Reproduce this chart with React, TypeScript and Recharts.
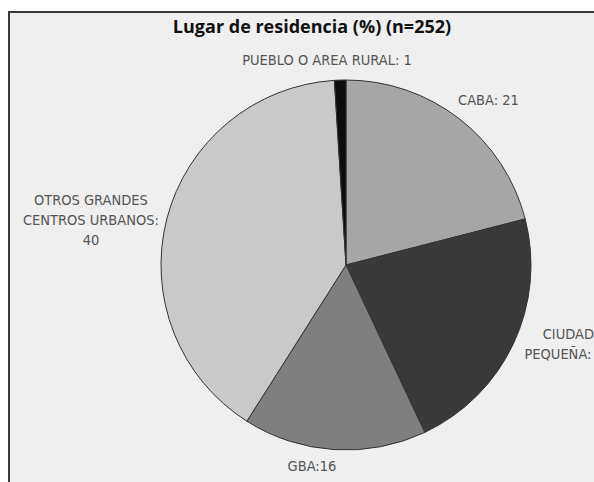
import React from "react";
import { PieChart, Pie, Cell } from "recharts";

const categories = [
  "CABA",
  "CIUDAD PEQUEÑA",
  "GBA",
  "OTROS GRANDES CENTROS URBANOS",
  "PUEBLO O AREA RURAL",
];
const values = [21, 22, 16, 40, 1];
const labelLines = [
  ["CABA: 21"],
  ["CIUDAD", "PEQUEÑA: 22"],
  ["GBA:16"],
  ["OTROS GRANDES", "CENTROS URBANOS:", "40"],
  ["PUEBLO O AREA RURAL: 1"],
];

const colors = ["#a6a6a6", "#393939", "#7f7f7f", "#c9c9c9", "#0c0c0c"];
// extra distance beyond the rim for each label, and a small angular nudge
const labelGap = [33, 51, 19, 74, 21];
const labelTurn = [-3, 5.6, -6, 4.4, 3.5];

const data = categories.map((name, i) => ({ name, value: values[i] }));

const RAD = Math.PI / 180;
const labelFont = "'Liberation Sans Narrow', 'DejaVu Sans Condensed', 'Open Sans', sans-serif";

const renderLabel = (props: any) => {
  const { cx, cy, midAngle, outerRadius, index } = props;
  const a = midAngle + labelTurn[index];
  const r = outerRadius + labelGap[index];
  const x = cx + r * Math.cos(-a * RAD);
  const y = cy + r * Math.sin(-a * RAD);
  const lines = labelLines[index];
  const lh = 20;
  const y0 = y - ((lines.length - 1) * lh) / 2;
  return (
    <text
      x={x}
      y={y0}
      textAnchor="middle"
      dominantBaseline="central"
      fill="#555"
      fontSize={14.5}
      fontFamily={labelFont}
    >
      {lines.map((l, k) => (
        <tspan key={k} x={x} y={y0 + k * lh}>
          {l}
        </tspan>
      ))}
    </text>
  );
};

export default function App() {
  return (
    <div
      style={{
        position: "absolute",
        left: 0,
        top: 0,
        width: 594,
        height: 482,
        overflow: "hidden",
        background: "#fff",
      }}
    >
      <div
        style={{
          position: "absolute",
          left: 8,
          top: 11,
          width: 700,
          height: 600,
          border: "2px solid #3a3a3a",
          background: "#efefef",
        }}
      />
      <div
        style={{
          position: "absolute",
          left: 0,
          top: 14,
          width: 624,
          textAlign: "center",
          fontFamily: "'Open Sans', sans-serif",
          fontWeight: 700,
          fontSize: 18,
          lineHeight: "24px",
          color: "#111",
        }}
      >
        Lugar de residencia (%) (n=252)
      </div>
      <div style={{ position: "absolute", left: 0, top: 0 }}>
        <PieChart width={594} height={482} margin={{ top: 0, right: 0, bottom: 0, left: 0 }}>
          <Pie
            data={data}
            dataKey="value"
            nameKey="name"
            cx={346}
            cy={265}
            outerRadius={185}
            startAngle={90}
            endAngle={-270}
            stroke="#333"
            strokeWidth={1}
            label={renderLabel}
            labelLine={false}
            isAnimationActive={false}
          >
            {data.map((d, i) => (
              <Cell key={d.name} fill={colors[i]} />
            ))}
          </Pie>
        </PieChart>
      </div>
    </div>
  );
}
